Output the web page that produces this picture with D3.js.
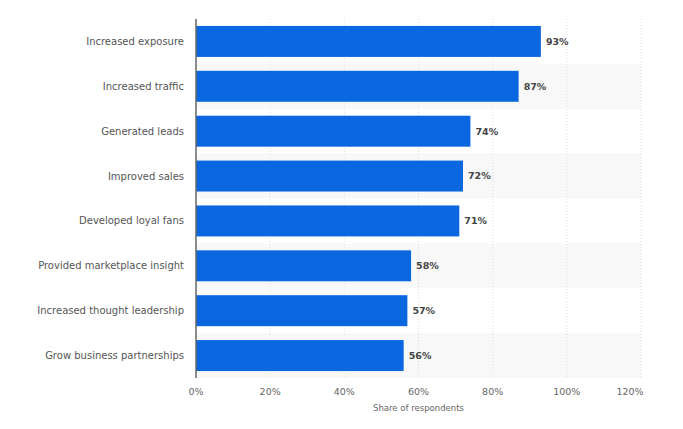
<!DOCTYPE html>
<html><head><meta charset="utf-8">
<script src="https://cdn.jsdelivr.net/npm/d3@7/dist/d3.min.js"></script>
<style>body{margin:0;background:#fff}svg{display:block}</style>
</head><body>
<script>
const categories = ["Increased exposure","Increased traffic","Generated leads","Improved sales","Developed loyal fans","Provided marketplace insight","Increased thought leadership","Grow business partnerships"];
const values = [93,87,74,72,71,58,57,56];
const ticks = [0,20,40,60,80,100,120];
const axisTitle = "Share of respondents";

const W=683,H=429;
const m={l:196,r:42,t:19,b:51};
const svg=d3.select("body").append("svg").attr("width",W).attr("height",H);
const x=d3.scaleLinear().domain([0,120]).range([m.l,W-m.r]);
const y=d3.scaleBand().domain(categories).range([m.t,H-m.b]).paddingInner(0.31).paddingOuter(0.155);
const yb=d3.scaleBand().domain(categories).range([m.t,H-m.b]);

// stripes
svg.append("g").selectAll("rect").data(categories.filter((d,i)=>i%2==1)).join("rect")
  .attr("x",x(0)).attr("width",x(120)-x(0)).attr("y",d=>yb(d)).attr("height",yb.bandwidth()).attr("fill","#f8f8f8");
// grid
svg.append("g").selectAll("line").data(ticks.slice(1)).join("line")
  .attr("x1",d=>x(d)).attr("x2",d=>x(d)).attr("y1",m.t).attr("y2",H-m.b)
  .attr("stroke","#dcdcdc").attr("stroke-dasharray","1,2");
// bars
svg.append("g").selectAll("rect").data(values).join("rect")
  .attr("x",x(0)).attr("y",(d,i)=>y(categories[i])).attr("height",y.bandwidth())
  .attr("width",d=>x(d)-x(0)).attr("fill","#0a67e0");
// value labels
svg.append("g").selectAll("text").data(values).join("text")
  .attr("x",d=>x(d)+5).attr("y",(d,i)=>y(categories[i])+y.bandwidth()/2).attr("dy","0.35em")
  .attr("font-family","'DejaVu Sans',sans-serif").attr("font-size",9.5).attr("font-weight","bold")
  .attr("fill","#444").text(d=>d+"%");
// category labels
svg.append("g").selectAll("text").data(categories).join("text")
  .attr("x",m.l-12).attr("y",d=>y(d)+y.bandwidth()/2).attr("dy","0.35em").attr("text-anchor","end")
  .attr("font-family","'DejaVu Sans',sans-serif").attr("font-size",10).attr("fill","#555").text(d=>d);
// x axis labels
svg.append("g").selectAll("text").data(ticks).join("text")
  .attr("x",d=>d===120?x(d)-11:x(d)).attr("y",H-m.b+17).attr("text-anchor","middle")
  .attr("font-family","'DejaVu Sans',sans-serif").attr("font-size",9.5).attr("fill","#666").text(d=>d+"%");
svg.append("text").attr("x",x(60)).attr("y",H-m.b+33).attr("text-anchor","middle")
  .attr("font-family","'DejaVu Sans',sans-serif").attr("font-size",8.5).attr("fill","#666").text(axisTitle);
// left axis line
svg.append("line").attr("x1",x(0)).attr("x2",x(0)).attr("y1",m.t).attr("y2",H-m.b).attr("stroke","#666").attr("stroke-width",1.5);
</script>
</body></html>
